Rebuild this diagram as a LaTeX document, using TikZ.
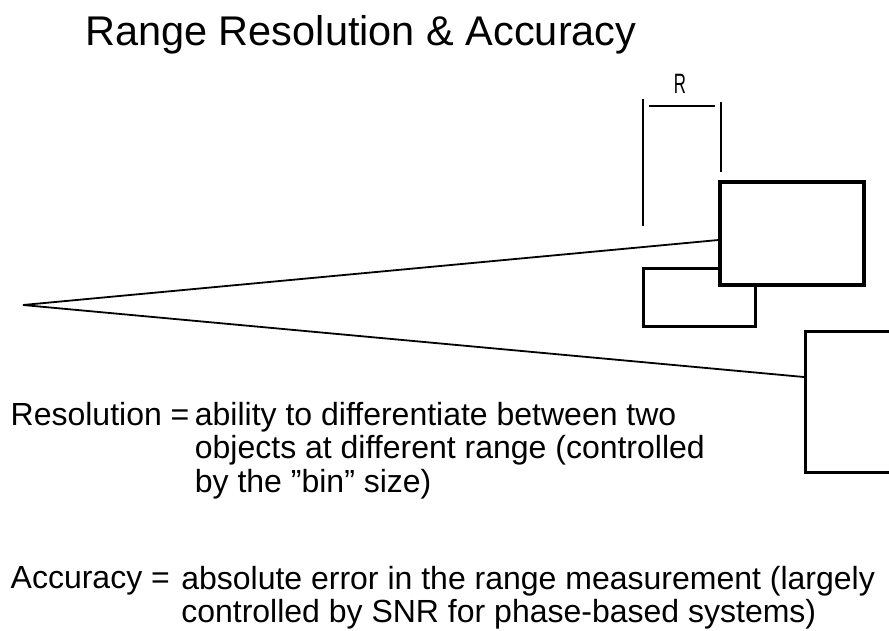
\documentclass[tikz,border=0pt]{standalone}
\usepackage{fontspec}
\setmainfont{Liberation Sans}
\usetikzlibrary{positioning}

\begin{document}
\begin{tikzpicture}[
  x=1pt, y=-1pt,
  title/.style={font=\fontsize{41.5}{46}\selectfont, inner sep=0pt, anchor=base west},
  body/.style={font=\fontsize{32}{33.5}\selectfont, inner sep=0pt, anchor=north west, align=left},
  target/.style={draw, line width=3.2pt, inner sep=0pt, fill=white},
  beam/.style={line width=1.8pt},
  tick/.style={line width=1.8pt}
]
\useasboundingbox (0,0) rectangle (889,630);
\node[title] (head) at (85,45) {Range Resolution \& Accuracy};
% targets
\node[target, minimum width=112pt, minimum height=58pt] (near) at (699.5,297.5) {};
\node[target, minimum width=144pt, minimum height=103pt] (far) at (792,233.5) {};
\node[target, minimum width=150pt, minimum height=141pt] (side) at (880.6,402) {};
% beam
\coordinate (apex) at (23,305);
\coordinate (hitfar) at (far.west |- 0,240);
\coordinate (hitside) at (side.west |- 0,377);
\draw[beam] (hitfar) -- (apex) -- (hitside);
% resolution bracket
\draw[tick] (643,99) -- (643,226);
\draw[tick] (721,102) -- (721,172);
\draw[tick] (649,106) -- (715,106);
\node[font=\fontsize{28}{30}\selectfont, inner sep=0pt, anchor=base, xscale=0.6, transform shape] (rlab) at (680,93) {R};
% definitions
\node[body, anchor=base west] (resdef) at (10.5,425) {Resolution =};
\node[body, xshift=5pt] (resdesc) at (resdef.north east) {ability to differentiate between two\\objects at different range (controlled\\by the "bin" size)};
\node[body, anchor=base west] (accdef) at (10.5,588) {Accuracy =};
\node[body, xshift=11pt] (accdesc) at (accdef.north east) {absolute error in the range measurement (largely\\controlled by SNR for phase-based systems)};
\end{tikzpicture}
\end{document}
